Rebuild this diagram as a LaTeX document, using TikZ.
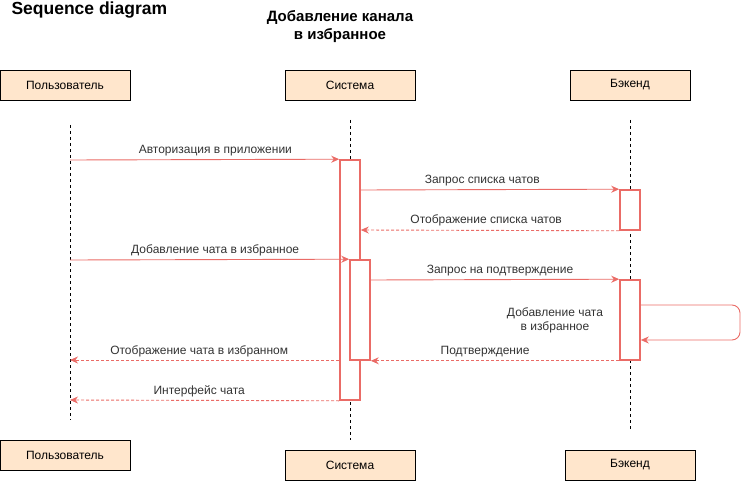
\documentclass[tikz,border=0pt]{standalone}
\usepackage{fontspec}
\setmainfont{Liberation Sans}
\usetikzlibrary{arrows.meta}
\definecolor{actorfill}{HTML}{FFE6CC}
\definecolor{msgred}{HTML}{EA6B66}
\definecolor{msgtext}{HTML}{333333}
\tikzset{
  actor/.style={draw=black, fill=actorfill, minimum width=130, minimum height=30, inner sep=0, font=\fontsize{12}{14}\selectfont},
  lifeline/.style={draw=black, dash pattern=on 3pt off 3pt},
  actbox/.style={draw=msgred, line width=1.6, fill=white, minimum width=20, inner sep=0},
  call/.style={draw=msgred, line width=0.9, -{Stealth[length=8pt,width=7pt]}},
  reply/.style={call, dash pattern=on 3pt off 2pt},
  msglabel/.style={text=msgtext, font=\fontsize{12}{14}\selectfont, inner sep=1}
}
\begin{document}
\begin{tikzpicture}[x=1pt,y=-1pt]
\useasboundingbox (0,0) rectangle (749,481);
% titles
\node[anchor=west, font=\bfseries\fontsize{17.5}{20}\selectfont] (title) at (8,10) {Sequence diagram};
\node[align=center, font=\bfseries\fontsize{15}{18}\selectfont] (topic) at (340,27) {Добавление канала\\в избранное};
% actors
\node[actor] (usertop) at (65,85) {Пользователь};
\node[actor] (systop) at (350,85) {Система};
\node[actor, minimum width=120] (backtop) at (630,85) {Бэкенд};
\node[actor] (userbot) at (65,455) {Пользователь};
\node[actor] (sysbot) at (350,465) {Система};
\node[actor] (backbot) at (630,465) {Бэкенд};
% lifelines
\coordinate (ul1) at (70,125); \coordinate (ul2) at (70,420);
\coordinate (sl1) at (350,120); \coordinate (sl2) at (350,440);
\coordinate (bl1) at (630,120); \coordinate (bl2) at (630,430);
\draw[lifeline] (ul1) -- (ul2);
\draw[lifeline] (sl1) -- (sl2);
\draw[lifeline] (bl1) -- (bl2);
% activations
\node[actbox, minimum height=240] (sysact) at (350,280) {};
\node[actbox, minimum height=100] (sysfav) at (360,310) {};
\node[actbox, minimum height=40] (backlist) at (630,210) {};
\node[actbox, minimum height=80] (backfav) at (630,320) {};
% messages
\coordinate (u160) at (70,160); \coordinate (u260) at (70,260);
\coordinate (u360) at (70,360); \coordinate (u400) at (70,400);
\draw[call] (u160) -- node[msglabel, above=2, pos=0.54] {Авторизация в приложении} (sysact.north west);
\draw[call] (sysact.east |- 0,190) -- node[msglabel, above=2, pos=0.47] {Запрос списка чатов} (backlist.north west);
\draw[reply] (backlist.south west) -- node[msglabel, above=3, pos=0.515] {Отображение списка чатов} (sysact.east |- 0,230);
\draw[call] (u260) -- node[msglabel, above=2, pos=0.52] {Добавление чата в избранное} (sysfav.north west);
\draw[call] (sysfav.east |- 0,280) -- node[msglabel, above=2, pos=0.52] {Запрос на подтверждение} (backfav.north west);
\draw[call, rounded corners=8] (backfav.east |- 0,305) -- (740,305) -- (740,340) -- (backfav.east |- 0,340);
\node[msglabel, align=center] (selflabel) at (555,320) {Добавление чата\\в избранное};
\draw[reply] (backfav.south west) -- node[msglabel, above=2, pos=0.54] {Подтверждение} (sysfav.south east);
\draw[reply] (sysact.west |- 0,360) -- node[msglabel, above=2, pos=0.52] {Отображение чата в избранном} (u360);
\draw[reply] (sysact.south west) -- node[msglabel, above=2, pos=0.52] {Интерфейс чата} (u400);
\end{tikzpicture}
\end{document}
